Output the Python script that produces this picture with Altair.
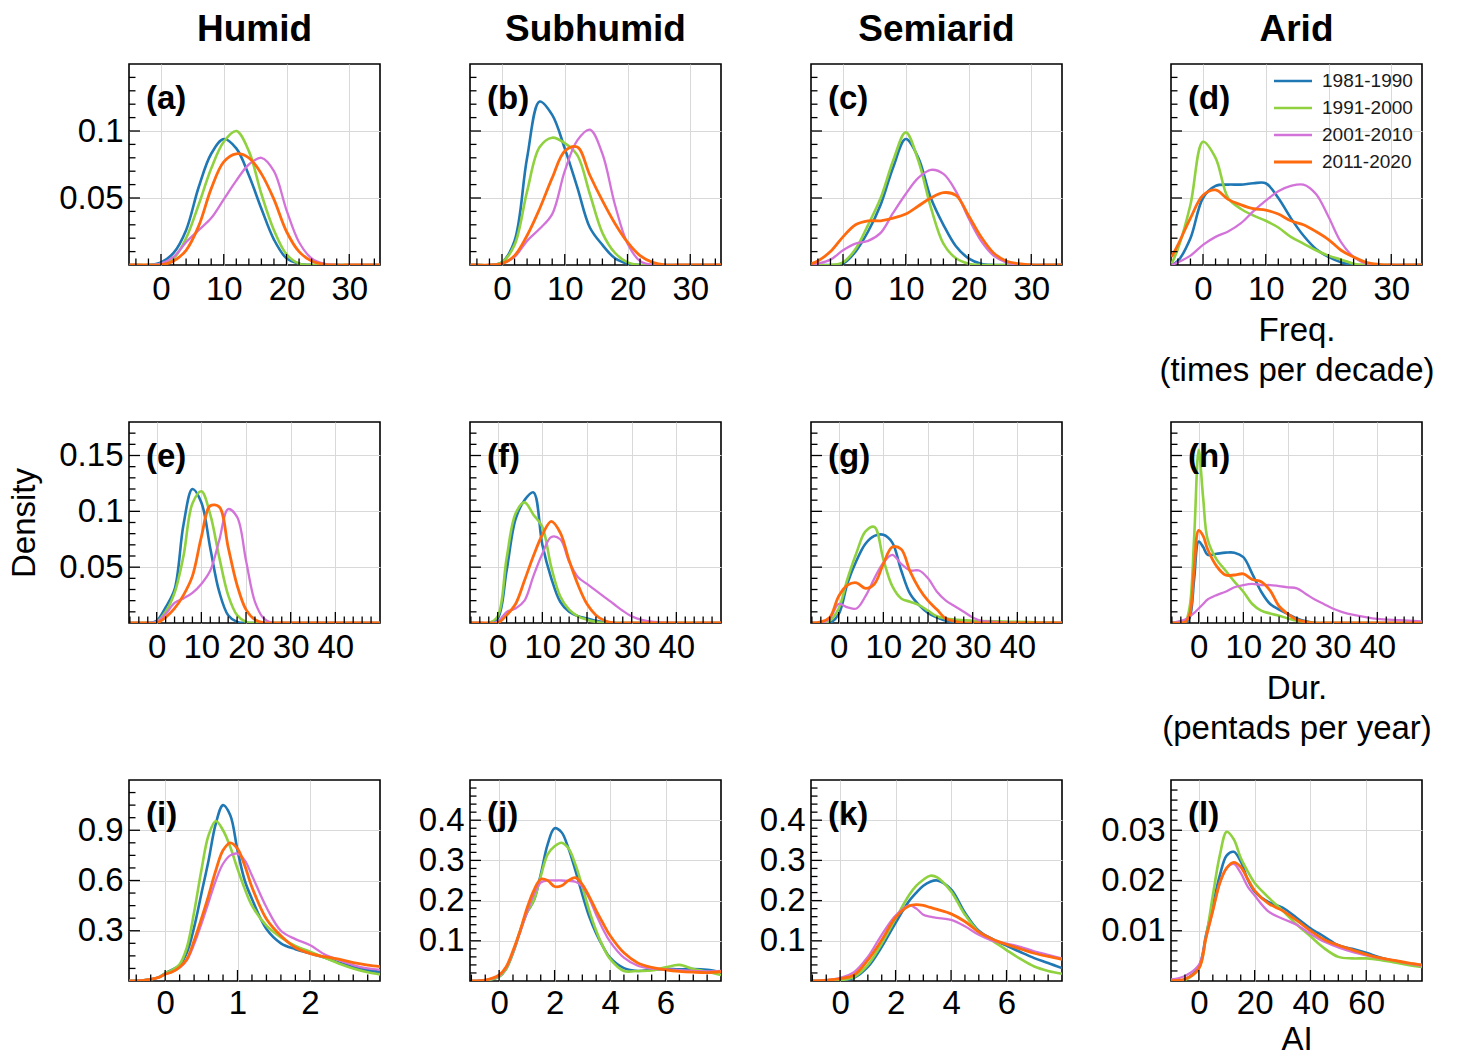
import altair as alt
import numpy as np
import pandas as pd

FONT = "Liberation Sans"
PERIODS = ["1981-1990", "1991-2000", "2001-2010", "2011-2020"]
COLORS = ["#1f77b4", "#8fd13f", "#d373d9", "#ff6a0f"]
LINE_W = [2.6, 2.6, 2.3, 2.8]
COL_TITLES = ["Humid", "Subhumid", "Semiarid", "Arid"]

# ---------------- data (density curves) ----------------
ROW1_X = [-5, -4, -2, 0, 2, 4, 6, 8, 10, 12, 14, 16, 18, 20, 22, 24, 26, 28, 30, 32, 35]
A_1981 = [0, 0, 0, 0.002, 0.009, 0.026, 0.058, 0.083, 0.094, 0.087, 0.067, 0.042, 0.019, 0.005, 0.001, 0, 0, 0, 0, 0, 0]
A_1991 = [0, 0, 0, 0.001, 0.005, 0.02, 0.045, 0.072, 0.092, 0.1, 0.085, 0.053, 0.026, 0.008, 0.001, 0, 0, 0, 0, 0, 0]
A_2001 = [0, 0, 0, 0.001, 0.006, 0.017, 0.026, 0.035, 0.049, 0.063, 0.075, 0.08, 0.07, 0.041, 0.017, 0.005, 0.001, 0, 0, 0, 0]
A_2011 = [0, 0, 0, 0, 0.003, 0.011, 0.029, 0.057, 0.077, 0.083, 0.08, 0.068, 0.049, 0.025, 0.01, 0.003, 0.0005, 0, 0, 0, 0]

B_1981 = [0, 0, 0, 0.002, 0.018, 0.08, 0.122, 0.112, 0.087, 0.058, 0.028, 0.015, 0.005, 0.001, 0, 0, 0, 0, 0, 0, 0]
B_1991 = [0, 0, 0, 0.002, 0.015, 0.055, 0.088, 0.095, 0.091, 0.082, 0.053, 0.024, 0.009, 0.002, 0, 0, 0, 0, 0, 0, 0]
B_2001 = [0, 0, 0, 0.001, 0.006, 0.018, 0.027, 0.038, 0.07, 0.093, 0.101, 0.083, 0.045, 0.016, 0.003, 0, 0, 0, 0, 0, 0]
B_2011 = [0, 0, 0, 0.001, 0.007, 0.022, 0.042, 0.065, 0.085, 0.088, 0.067, 0.048, 0.031, 0.017, 0.007, 0.002, 0, 0, 0, 0, 0]

C_1981 = [0, 0, 0, 0.001, 0.01, 0.025, 0.045, 0.073, 0.094, 0.08, 0.05, 0.03, 0.014, 0.005, 0.001, 0, 0, 0, 0, 0, 0]
C_1991 = [0, 0, 0, 0.002, 0.012, 0.03, 0.05, 0.078, 0.099, 0.078, 0.043, 0.016, 0.005, 0.001, 0, 0, 0, 0, 0, 0, 0]
C_2001 = [0, 0.001, 0.004, 0.011, 0.016, 0.018, 0.024, 0.039, 0.053, 0.065, 0.071, 0.068, 0.055, 0.035, 0.018, 0.007, 0.002, 0, 0, 0, 0]
C_2011 = [0.001, 0.003, 0.01, 0.021, 0.03, 0.033, 0.033, 0.035, 0.038, 0.044, 0.05, 0.054, 0.052, 0.037, 0.021, 0.009, 0.003, 0.001, 0, 0, 0]

D_1981 = [0, 0.003, 0.02, 0.05, 0.059, 0.06, 0.06, 0.061, 0.061, 0.05, 0.035, 0.022, 0.012, 0.006, 0.002, 0, 0, 0, 0, 0, 0]
D_1991 = [0.001, 0.012, 0.045, 0.092, 0.08, 0.05, 0.042, 0.037, 0.033, 0.028, 0.021, 0.016, 0.011, 0.007, 0.004, 0.001, 0, 0, 0, 0, 0]
D_2001 = [0, 0.002, 0.007, 0.015, 0.021, 0.025, 0.031, 0.04, 0.048, 0.055, 0.059, 0.06, 0.053, 0.036, 0.017, 0.006, 0.001, 0, 0, 0, 0]
D_2011 = [0.006, 0.015, 0.035, 0.052, 0.056, 0.049, 0.045, 0.042, 0.041, 0.038, 0.033, 0.03, 0.025, 0.019, 0.011, 0.006, 0.002, 0.0005, 0, 0, 0]

ROW2_X = [-6, -4, -2, 0, 2, 4, 6, 8, 10, 12, 14, 16, 18, 20, 22, 24, 26, 28, 30, 32, 35, 40, 45, 50]
E_1981 = [0, 0, 0, 0.002, 0.014, 0.03, 0.088, 0.12, 0.108, 0.067, 0.028, 0.007, 0.001, 0, 0, 0, 0, 0, 0, 0, 0, 0, 0, 0]
E_1991 = [0, 0, 0, 0.001, 0.01, 0.027, 0.06, 0.107, 0.118, 0.097, 0.059, 0.025, 0.007, 0.001, 0, 0, 0, 0, 0, 0, 0, 0, 0, 0]
E_2001 = [0, 0, 0, 0.001, 0.008, 0.018, 0.022, 0.027, 0.035, 0.047, 0.074, 0.102, 0.095, 0.056, 0.019, 0.004, 0, 0, 0, 0, 0, 0, 0, 0]
E_2011 = [0, 0, 0, 0, 0.005, 0.013, 0.025, 0.042, 0.077, 0.105, 0.104, 0.068, 0.034, 0.012, 0.003, 0, 0, 0, 0, 0, 0, 0, 0, 0]

F_1981 = [0, 0, 0, 0.004, 0.047, 0.093, 0.11, 0.117, 0.07, 0.04, 0.019, 0.01, 0.006, 0.004, 0.002, 0.0005, 0, 0, 0, 0, 0, 0, 0, 0]
F_1991 = [0, 0, 0, 0.006, 0.058, 0.098, 0.108, 0.097, 0.086, 0.05, 0.024, 0.012, 0.006, 0.003, 0.001, 0, 0, 0, 0, 0, 0, 0, 0, 0]
F_2001 = [0, 0, 0, 0.001, 0.01, 0.013, 0.02, 0.042, 0.062, 0.077, 0.075, 0.055, 0.041, 0.035, 0.029, 0.023, 0.017, 0.011, 0.006, 0.003, 0.001, 0, 0, 0]
F_2011 = [0, 0, 0, 0, 0.007, 0.017, 0.038, 0.06, 0.079, 0.091, 0.081, 0.056, 0.034, 0.017, 0.007, 0.002, 0, 0, 0, 0, 0, 0, 0, 0]

G_1981 = [0, 0, 0, 0.008, 0.036, 0.056, 0.071, 0.078, 0.079, 0.072, 0.047, 0.026, 0.016, 0.009, 0.005, 0.002, 0.001, 0, 0, 0, 0, 0, 0, 0]
G_1991 = [0, 0, 0.002, 0.013, 0.04, 0.063, 0.082, 0.086, 0.057, 0.033, 0.022, 0.019, 0.016, 0.011, 0.006, 0.004, 0.003, 0.0025, 0.002, 0.0018, 0.0015, 0.001, 0.0005, 0]
G_2001 = [0, 0, 0.004, 0.017, 0.014, 0.013, 0.024, 0.04, 0.054, 0.061, 0.053, 0.047, 0.047, 0.04, 0.028, 0.02, 0.015, 0.01, 0.005, 0.002, 0.001, 0, 0, 0]
G_2011 = [0, 0.001, 0.005, 0.024, 0.034, 0.036, 0.031, 0.035, 0.053, 0.068, 0.066, 0.046, 0.031, 0.02, 0.012, 0.004, 0.0015, 0, 0, 0, 0, 0, 0, 0]

H_X = [-6, -4, -3, -2, -1, 0, 1, 2, 4, 6, 8, 10, 12, 14, 16, 18, 20, 22, 24, 26, 28, 30, 32, 35, 40, 45, 50]
H_1981 = [0, 0, 0, 0.005, 0.04, 0.073, 0.068, 0.061, 0.062, 0.063, 0.063, 0.059, 0.044, 0.028, 0.017, 0.012, 0.008, 0.004, 0.0015, 0, 0, 0, 0, 0, 0, 0, 0]
H_1991 = [0, 0, 0.001, 0.015, 0.078, 0.155, 0.112, 0.075, 0.057, 0.047, 0.037, 0.028, 0.017, 0.011, 0.0085, 0.0065, 0.004, 0.002, 0.001, 0, 0, 0, 0, 0, 0, 0, 0]
H_2001 = [0, 0.002, 0.003, 0.006, 0.009, 0.013, 0.017, 0.021, 0.025, 0.028, 0.032, 0.034, 0.035, 0.034, 0.034, 0.033, 0.032, 0.031, 0.026, 0.021, 0.017, 0.013, 0.01, 0.007, 0.0036, 0.0025, 0.0015]
H_2011 = [0, 0, 0.001, 0.008, 0.05, 0.083, 0.078, 0.066, 0.051, 0.043, 0.043, 0.044, 0.039, 0.037, 0.029, 0.015, 0.008, 0.003, 0.001, 0, 0, 0, 0, 0, 0, 0, 0]

I_X = [-0.5, -0.3, -0.1, 0, 0.1, 0.2, 0.3, 0.4, 0.5, 0.6, 0.7, 0.8, 0.9, 1.0, 1.1, 1.2, 1.4, 1.6, 1.8, 2.0, 2.2, 2.4, 2.6, 2.8, 3.0]
I_1981 = [0, 0.004, 0.02, 0.046, 0.068, 0.095, 0.17, 0.32, 0.52, 0.72, 0.94, 1.05, 0.99, 0.78, 0.6, 0.49, 0.31, 0.225, 0.19, 0.165, 0.14, 0.11, 0.085, 0.065, 0.052]
I_1991 = [0, 0.004, 0.02, 0.045, 0.066, 0.1, 0.2, 0.41, 0.66, 0.87, 0.955, 0.9, 0.8, 0.67, 0.55, 0.45, 0.33, 0.26, 0.21, 0.175, 0.14, 0.105, 0.075, 0.052, 0.038]
I_2001 = [0, 0.004, 0.02, 0.04, 0.055, 0.08, 0.125, 0.22, 0.34, 0.47, 0.6, 0.7, 0.75, 0.76, 0.72, 0.63, 0.44, 0.3, 0.25, 0.215, 0.16, 0.125, 0.095, 0.075, 0.065]
I_2011 = [0, 0.004, 0.02, 0.04, 0.055, 0.082, 0.13, 0.24, 0.37, 0.51, 0.66, 0.78, 0.825, 0.79, 0.69, 0.56, 0.37, 0.27, 0.2, 0.165, 0.145, 0.13, 0.11, 0.095, 0.085]

J_X = [-1, -0.5, 0, 0.25, 0.5, 0.75, 1, 1.25, 1.5, 1.75, 2, 2.25, 2.5, 2.75, 3, 3.25, 3.5, 3.75, 4, 4.5, 5, 5.5, 6, 6.5, 7, 7.5, 8]
J_1981 = [0, 0.001, 0.011, 0.03, 0.07, 0.123, 0.17, 0.2, 0.265, 0.34, 0.38, 0.37, 0.33, 0.275, 0.215, 0.16, 0.118, 0.085, 0.058, 0.032, 0.025, 0.028, 0.03, 0.029, 0.03, 0.028, 0.022]
J_1991 = [0, 0.001, 0.011, 0.03, 0.07, 0.123, 0.17, 0.2, 0.26, 0.315, 0.335, 0.344, 0.33, 0.29, 0.235, 0.175, 0.125, 0.085, 0.055, 0.025, 0.025, 0.026, 0.034, 0.04, 0.03, 0.023, 0.015]
J_2001 = [0, 0.002, 0.013, 0.033, 0.072, 0.12, 0.17, 0.215, 0.245, 0.25, 0.25, 0.25, 0.249, 0.247, 0.235, 0.205, 0.165, 0.128, 0.098, 0.058, 0.038, 0.031, 0.029, 0.027, 0.025, 0.024, 0.025]
J_2011 = [0, 0.002, 0.015, 0.035, 0.075, 0.123, 0.18, 0.225, 0.253, 0.25, 0.235, 0.237, 0.25, 0.257, 0.24, 0.21, 0.175, 0.143, 0.113, 0.07, 0.045, 0.034, 0.028, 0.024, 0.022, 0.021, 0.023]

K_X = [-1, -0.5, 0, 0.5, 1, 1.5, 2, 2.5, 2.75, 3, 3.25, 3.5, 4, 4.5, 5, 5.5, 6, 6.5, 7, 7.5, 8]
K_1981 = [0, 0, 0.001, 0.008, 0.035, 0.085, 0.145, 0.2, 0.22, 0.237, 0.247, 0.25, 0.228, 0.17, 0.125, 0.104, 0.088, 0.072, 0.057, 0.045, 0.032]
K_1991 = [0, 0, 0.002, 0.01, 0.04, 0.093, 0.155, 0.215, 0.237, 0.252, 0.262, 0.258, 0.223, 0.165, 0.122, 0.1, 0.077, 0.055, 0.036, 0.025, 0.018]
K_2001 = [0, 0.002, 0.008, 0.022, 0.06, 0.115, 0.163, 0.188, 0.18, 0.165, 0.16, 0.157, 0.152, 0.136, 0.115, 0.1, 0.093, 0.085, 0.074, 0.065, 0.056]
K_2011 = [0, 0.002, 0.006, 0.015, 0.052, 0.102, 0.158, 0.187, 0.19, 0.188, 0.183, 0.178, 0.167, 0.148, 0.122, 0.104, 0.091, 0.08, 0.069, 0.061, 0.054]

L_X = [-10, -5, 0, 2.5, 5, 7.5, 10, 12.5, 15, 17.5, 20, 25, 30, 35, 40, 45, 50, 55, 60, 65, 70, 75, 80]
L_1981 = [0, 0.0003, 0.0029, 0.009, 0.015, 0.021, 0.025, 0.0257, 0.0238, 0.0202, 0.0178, 0.0157, 0.0146, 0.0126, 0.0105, 0.0088, 0.0071, 0.0064, 0.0056, 0.0047, 0.004, 0.0034, 0.0031]
L_1991 = [0, 0.0002, 0.0025, 0.0085, 0.017, 0.025, 0.0297, 0.0282, 0.0245, 0.0218, 0.0195, 0.0166, 0.014, 0.0113, 0.0089, 0.0065, 0.0048, 0.0045, 0.0045, 0.0042, 0.0037, 0.0032, 0.0028]
L_2001 = [0.0003, 0.001, 0.0032, 0.0085, 0.014, 0.0195, 0.0225, 0.0233, 0.0215, 0.0188, 0.017, 0.0138, 0.0124, 0.0112, 0.0094, 0.0078, 0.0067, 0.0058, 0.0051, 0.0045, 0.0041, 0.0035, 0.003]
L_2011 = [0.0001, 0.0004, 0.0025, 0.0085, 0.014, 0.0195, 0.0225, 0.0236, 0.0227, 0.0203, 0.018, 0.0154, 0.014, 0.0121, 0.01, 0.0082, 0.0071, 0.0062, 0.0053, 0.0046, 0.0041, 0.0036, 0.0032]

# axis tick values
ROW1_XTICKS = [0, 10, 20, 30]
ROW1_YTICKS = [0.05, 0.1]
ROW2_XTICKS = [0, 10, 20, 30, 40]
ROW2_YTICKS = [0.05, 0.1, 0.15]
I_XTICKS, I_YTICKS = [0, 1, 2], [0.3, 0.6, 0.9]
JK_XTICKS, JK_YTICKS = [0, 2, 4, 6], [0.1, 0.2, 0.3, 0.4]
L_XTICKS, L_YTICKS = [0, 20, 40, 60], [0.01, 0.02, 0.03]

# ---------------- styling / layout ----------------
W, H = 251, 201
GRID = "#d9d9d9"
FS = 33
MAJ_LEN, MIN_LEN = 11, 6.5


def minor_vals(lo, hi, step, majors):
    start = np.ceil(lo / step) * step
    vals = np.round(np.arange(start, hi + 1e-9, step), 6)
    out = []
    for v in vals:
        if lo < v < hi and not any(abs(v - m) < 1e-9 for m in majors):
            out.append(float(v))
    return out


def panel(key, xs, series, xdom, ydom, xmaj, ymaj, xstep, ystep, ylabels,
          title=None, xtitle=None, ytitle=None, legend=False, xlabel_pad=8, xtitle_pad=8):
    xscale = alt.Scale(domain=xdom, nice=False, zero=False)
    yscale = alt.Scale(domain=ydom, nice=False, zero=False)
    xaxis = alt.Axis(values=xmaj, format="~r", grid=True, gridColor=GRID, gridWidth=1,
                     ticks=False, domain=False, labelFont=FONT, labelFontSize=FS,
                     labelColor="black", labelPadding=xlabel_pad, labelFlush=False,
                     labelOverlap=False, title=xtitle if xtitle else "", titleFont=FONT,
                     titleFontSize=FS, titleFontWeight="normal", titleColor="black",
                     titlePadding=xtitle_pad, titleLineHeight=40)
    yaxis = alt.Axis(values=ymaj, format="~r", grid=True, gridColor=GRID, gridWidth=1,
                     ticks=False, domain=False, labels=ylabels, labelFont=FONT,
                     labelFontSize=FS, labelColor="black", labelPadding=6, labelFlush=False,
                     labelOverlap=False, title=ytitle if ytitle else "", titleFont=FONT,
                     titleFontSize=FS, titleFontWeight="normal", titleColor="black",
                     titlePadding=17)
    X = lambda: alt.X("x:Q", scale=xscale, axis=xaxis)
    Y = lambda: alt.Y("y:Q", scale=yscale, axis=yaxis)

    layers = []
    for i, (vals, c, w) in enumerate(zip(series, COLORS, LINE_W)):
        df = pd.DataFrame({"x": xs, "y": vals})
        layers.append(
            alt.Chart(df).mark_line(clip=True, color=c, strokeWidth=w, interpolate="catmull-rom")
            .encode(x=X(), y=Y())
        )
    # inward ticks (major + minor), left and bottom
    ymaj_in = [v for v in ymaj if ydom[0] < v < ydom[1]]
    xmaj_in = [v for v in xmaj if xdom[0] < v < xdom[1]]
    ymin = minor_vals(ydom[0], ydom[1], ystep, ymaj)
    xmin = minor_vals(xdom[0], xdom[1], xstep, xmaj)
    for vals, ln in ((ymaj_in, MAJ_LEN), (ymin, MIN_LEN)):
        layers.append(
            alt.Chart(pd.DataFrame({"y": vals})).mark_rule(color="black", strokeWidth=1.3)
            .encode(y=Y(), x=alt.value(0), x2=alt.value(ln))
        )
    for vals, ln in ((xmaj_in, MAJ_LEN), (xmin, MIN_LEN)):
        layers.append(
            alt.Chart(pd.DataFrame({"x": vals})).mark_rule(color="black", strokeWidth=1.3)
            .encode(x=X(), y=alt.value(H), y2=alt.value(H - ln))
        )
    # panel label
    layers.append(
        alt.Chart(pd.DataFrame({"t": [f"({key})"]})).mark_text(
            align="left", baseline="middle", fontSize=FS, fontWeight="bold", font=FONT, color="black"
        ).encode(x=alt.value(17), y=alt.value(35), text="t:N")
    )
    if legend:
        for i, (p, c, w) in enumerate(zip(PERIODS, COLORS, LINE_W)):
            d = pd.DataFrame({"label": [p]})
            yy = 17 + 27 * i
            layers.append(alt.Chart(d).mark_rule(color=c, strokeWidth=w).encode(
                x=alt.value(103), x2=alt.value(141), y=alt.value(yy)))
            layers.append(alt.Chart(d).mark_text(
                align="left", baseline="middle", fontSize=19, font=FONT, color="#1a1a1a"
            ).encode(x=alt.value(151), y=alt.value(yy), text="label:N"))
    props = dict(width=W, height=H)
    if title:
        props["title"] = alt.TitleParams(text=title, fontSize=37, fontWeight="bold", font=FONT,
                                         color="black", anchor="middle", baseline="alphabetic",
                                         offset=22, dy=36)
    return alt.layer(*layers).properties(**props)


R1 = dict(xdom=[-5.1, 34.9], ydom=[0, 0.15], xmaj=ROW1_XTICKS, ymaj=ROW1_YTICKS, xstep=2, ystep=0.01)
R2 = dict(xdom=[-6.2, 50], ydom=[0, 0.18], xmaj=ROW2_XTICKS, ymaj=ROW2_YTICKS, xstep=2, ystep=0.01)
RI = dict(xdom=[-0.5, 2.97], ydom=[0, 1.2], xmaj=I_XTICKS, ymaj=I_YTICKS, xstep=0.2, ystep=0.075,
          xlabel_pad=6)
RJK = dict(xdom=[-1.05, 8.0], ydom=[0, 0.5], xmaj=JK_XTICKS, ymaj=JK_YTICKS, xstep=0.5, ystep=0.02,
           xlabel_pad=6)
RL = dict(xdom=[-10, 80], ydom=[0, 0.04], xmaj=L_XTICKS, ymaj=L_YTICKS, xstep=5, ystep=0.002,
          xlabel_pad=6, xtitle_pad=3)

pa = panel("a", ROW1_X, [A_1981, A_1991, A_2001, A_2011], ylabels=True, title=COL_TITLES[0], **R1)
pb = panel("b", ROW1_X, [B_1981, B_1991, B_2001, B_2011], ylabels=False, title=COL_TITLES[1], **R1)
pc = panel("c", ROW1_X, [C_1981, C_1991, C_2001, C_2011], ylabels=False, title=COL_TITLES[2], **R1)
pd_ = panel("d", ROW1_X, [D_1981, D_1991, D_2001, D_2011], ylabels=False, title=COL_TITLES[3],
            xtitle=["Freq.", "(times per decade)"], legend=True, **R1)

pe = panel("e", ROW2_X, [E_1981, E_1991, E_2001, E_2011], ylabels=True, ytitle="Density", **R2)
pf = panel("f", ROW2_X, [F_1981, F_1991, F_2001, F_2011], ylabels=False, **R2)
pg = panel("g", ROW2_X, [G_1981, G_1991, G_2001, G_2011], ylabels=False, **R2)
ph = panel("h", H_X, [H_1981, H_1991, H_2001, H_2011], ylabels=False,
           xtitle=["Dur.", "(pentads per year)"], **R2)

pi = panel("i", I_X, [I_1981, I_1991, I_2001, I_2011], ylabels=True, **RI)
pj = panel("j", J_X, [J_1981, J_1991, J_2001, J_2011], ylabels=True, **RJK)
pk = panel("k", K_X, [K_1981, K_1991, K_2001, K_2011], ylabels=True, **RJK)
pl = panel("l", L_X, [L_1981, L_1991, L_2001, L_2011], ylabels=True, xtitle="AI", **RL)

grid = [[pa, pb, pc, pd_], [pe, pf, pg, ph], [pi, pj, pk, pl]]
cols = [alt.vconcat(*[grid[r][c] for r in range(3)], spacing=157, bounds="flush") for c in range(4)]

chart = alt.hconcat(*cols, spacing=36).properties(
    padding={"left": 7, "top": 10, "right": 10, "bottom": 0},
    background="white",
).configure_view(stroke="black", strokeWidth=1.6)

chart.save("out.html", embed_options={"renderer": "svg", "actions": False})
